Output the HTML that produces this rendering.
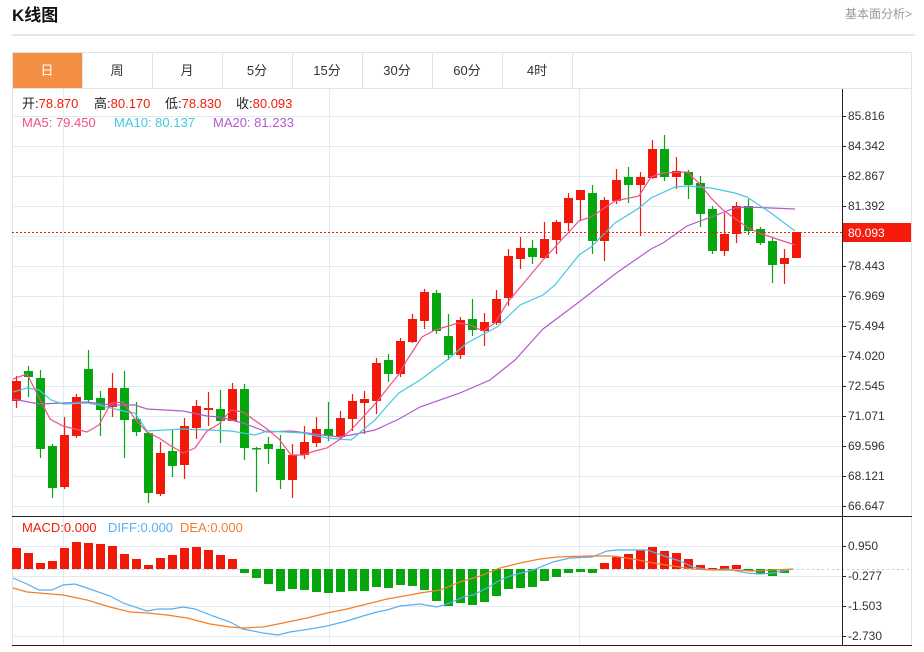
<!DOCTYPE html>
<html><head><meta charset="utf-8"><style>
body{margin:0;background:#fff;width:924px;height:652px;overflow:hidden;font-family:"Liberation Sans","Noto Sans CJK SC",sans-serif;}
svg{position:absolute;left:0;top:0}
</style></head><body>
<svg width="924" height="652" xmlns="http://www.w3.org/2000/svg" font-family="Liberation Sans, Noto Sans CJK SC, sans-serif">
<text x="12" y="21" font-size="17" font-weight="bold" fill="#111">K线图</text>
<text x="845" y="18" font-size="12" fill="#999">基本面分析&gt;</text>
<line x1="12" y1="35" x2="915" y2="35" stroke="#ccc"/>
<rect x="12.5" y="52.5" width="899" height="593" fill="none" stroke="#e2e2e2"/>
<line x1="12" y1="88.5" x2="912" y2="88.5" stroke="#e2e2e2"/>
<rect x="13" y="53" width="69" height="35" fill="#f48e42"/>
<g stroke="#e2e2e2"><line x1="82.5" y1="53" x2="82.5" y2="88"/><line x1="152.5" y1="53" x2="152.5" y2="88"/><line x1="222.5" y1="53" x2="222.5" y2="88"/><line x1="292.5" y1="53" x2="292.5" y2="88"/><line x1="362.5" y1="53" x2="362.5" y2="88"/><line x1="432.5" y1="53" x2="432.5" y2="88"/><line x1="502.5" y1="53" x2="502.5" y2="88"/><line x1="572.5" y1="53" x2="572.5" y2="88"/></g>
<g font-size="13" text-anchor="middle" fill="#333"><text x="47" y="75" fill="#fff">日</text><text x="117" y="75">周</text><text x="187" y="75">月</text><text x="257" y="75">5分</text><text x="327" y="75">15分</text><text x="397" y="75">30分</text><text x="467" y="75">60分</text><text x="537" y="75">4时</text></g>
<g stroke="#e3ebf2"><line x1="63.5" y1="89" x2="63.5" y2="645"/><line x1="329.5" y1="89" x2="329.5" y2="645"/><line x1="579.5" y1="89" x2="579.5" y2="645"/></g>
<g id="hg" stroke="#e3ebf2"></g>
<g id="cd"></g>
<polyline fill="none" stroke="#b05cc8" stroke-width="1.2" points="13,399 39,404 63,403 87,402 111,405 135,405 147,409 183,411 207,416 219,417 243,423 267,432 291,431 315,434 339,437 351,435 375,430 399,419 420,407 460,393 490,380 515,360 543,329 579,302 615,274 651,249 663,243 687,226 711,217 735,208 747,207 795,209"/>
<polyline fill="none" stroke="#45c8e0" stroke-width="1.2" points="13,392 27,388 39,390 51,400 63,404 87,403 99,405 123,411 135,413 147,431 183,429 231,431 255,435 267,431 303,433 327,438 351,440 375,420 387,406 399,393 420,380 447,360 467,343 497,327 520,305 543,295 555,285 579,255 591,247 615,223 639,208 651,198 675,187 687,186 711,188 735,193 747,197 771,213 795,231"/>
<polyline fill="none" stroke="#f0508a" stroke-width="1.2" points="13,379 27,374 50,419 63,426 87,432 99,425 111,403 123,402 135,419 147,432 159,438 171,446 183,453 195,448 207,431 219,424 231,410 243,412 267,429 279,439 291,455 303,455 315,451 327,448 339,440 351,430 363,417 375,404 387,389 399,374 407,360 422,337 435,330 458,323 470,325 483,331 495,323 507,303 543,260 579,221 591,217 615,201 639,196 651,177 663,173 687,172 699,183 711,198 723,210 747,227 759,233 795,245"/>
<line x1="12" y1="232.5" x2="842" y2="232.5" stroke="#f21b0a" stroke-dasharray="2,2"/>
<line x1="12" y1="569.5" x2="912" y2="569.5" stroke="#a9d2ec" stroke-dasharray="2,3"/>
<g id="mb"></g>
<polyline fill="none" stroke="#5aaff0" stroke-width="1.2" points="13,578 27,584 39,590 52,590 63,585 75,584 87,588 110,596 123,603 147,611 158,609 172,609 183,607 195,609 213,616 230,622 243,629 263,633 278,635 290,632 310,629 327,626 347,621 363,616 377,612 387,610 400,606 410,605 420,604 437,607 450,603 463,597 473,595 487,588 500,580 510,576 533,570 553,562 570,558 592,557 607,551 617,550 647,550 667,557 680,561 693,567 710,570 727,569 747,573 760,574 773,573 793,569"/>
<polyline fill="none" stroke="#f37e2a" stroke-width="1.2" points="13,588 27,592 39,593 63,595 87,600 110,607 130,612 147,613 167,615 187,618 210,624 230,627 243,628 263,627 283,623 307,618 327,613 347,609 367,604 387,599 410,595 420,593 440,590 460,582 480,576 500,568 520,563 540,559 557,557 587,556 613,556 633,559 653,563 673,566 693,569 713,570 733,570 753,571 793,569"/>
<line x1="842.5" y1="89" x2="842.5" y2="646" stroke="#222"/>
<line x1="12" y1="516.5" x2="912" y2="516.5" stroke="#222"/>
<line x1="12" y1="645.5" x2="912" y2="645.5" stroke="#222"/>
<g id="tk" stroke="#222"></g>
<g font-size="12" fill="#333">
<text x="848" y="120">85.816</text><text x="848" y="150">84.342</text><text x="848" y="180">82.867</text><text x="848" y="210">81.392</text><text x="848" y="270">78.443</text><text x="848" y="300">76.969</text><text x="848" y="330">75.494</text><text x="848" y="360">74.020</text><text x="848" y="390">72.545</text><text x="848" y="420">71.071</text><text x="848" y="450">69.596</text><text x="848" y="480">68.121</text><text x="848" y="510">66.647</text>
<text x="848" y="550">0.950</text><text x="848" y="580">-0.277</text><text x="848" y="610">-1.503</text><text x="848" y="640">-2.730</text>
</g>
<rect x="843" y="223" width="68" height="19" fill="#f51c0c"/>
<text x="848" y="237" font-size="12" fill="#fff">80.093</text>
<g font-size="13">
<text y="108" fill="#222"><tspan x="22">开:</tspan><tspan fill="#f21b0a">78.870</tspan><tspan x="94">高:</tspan><tspan fill="#f21b0a">80.170</tspan><tspan x="165">低:</tspan><tspan fill="#f21b0a">78.830</tspan><tspan x="236">收:</tspan><tspan fill="#f21b0a">80.093</tspan></text>
<text y="127"><tspan x="22" fill="#f0508a">MA5: 79.450</tspan><tspan x="114" fill="#45c8e0">MA10: 80.137</tspan><tspan x="213" fill="#b05cc8">MA20: 81.233</tspan></text>
<text y="532"><tspan x="22" fill="#f21b0a">MACD:0.000</tspan><tspan x="108" fill="#5aaff0">DIFF:0.000</tspan><tspan x="180" fill="#f37e2a">DEA:0.000</tspan></text>
</g>
</svg>
<script>
var NS="http://www.w3.org/2000/svg";
function el(p,t,a){var e=document.createElementNS(NS,t);for(var k in a)e.setAttribute(k,a[k]);p.appendChild(e);return e;}
var hg=document.getElementById('hg'),tk=document.getElementById('tk');
[116,146,176,206,236,266,296,326,356,386,416,446,476,506,546,576,606,636].forEach(function(y){el(hg,'line',{x1:12,y1:y+.5,x2:842,y2:y+.5});el(tk,'line',{x1:842,y1:y+.5,x2:846,y2:y+.5});});
var C=[[381,401,376,408,1],[371,377,366,397,0],[378,449,370,458,0],[446,488,444,498,0],[435,487,417,489,1],[397,436,394,438,1],[369,400,350,403,0],[398,410,391,436,0],[388,407,373,417,1],[388,420,371,458,0],[419,432,402,436,0],[433,493,432,503,0],[453,494,442,496,1],[451,466,429,477,0],[426,465,418,479,1],[406,428,400,439,1],[408,410,392,426,1],[409,421,390,443,0],[389,421,383,421,1],[389,448,384,460,0],[448,449,447,492,0],[444,449,437,464,0],[449,480,435,489,0],[455,480,444,498,1],[442,455,426,459,1],[429,443,417,447,1],[429,436,402,441,0],[418,437,411,440,1],[401,419,394,431,1],[399,403,391,434,1],[363,401,358,414,1],[360,374,354,382,0],[341,374,338,377,1],[319,342,314,343,1],[292,321,289,329,1],[293,331,290,334,0],[336,355,314,360,0],[320,355,317,359,1],[319,330,299,336,0],[322,331,313,346,1],[299,323,290,325,1],[256,298,249,306,1],[248,259,237,269,1],[248,257,240,264,0],[239,258,222,259,1],[222,240,220,254,1],[198,223,193,231,1],[190,200,190,221,1],[193,241,185,254,0],[200,241,197,261,1],[180,201,169,204,1],[177,185,167,203,0],[177,185,172,236,1],[149,178,140,179,1],[149,177,135,181,0],[171,177,157,189,1],[172,185,170,199,0],[183,214,176,227,0],[209,251,206,254,0],[234,251,213,256,1],[206,234,202,243,1],[206,231,199,235,0],[229,243,227,245,0],[241,265,237,283,0],[258,264,249,284,1],[232,258,232,258,1]];
var cd=document.getElementById('cd');
C.forEach(function(c,i){var x=16+12*i,col=c[4]?'#f31908':'#05a60e';
el(cd,'line',{x1:x+.5,y1:c[2],x2:x+.5,y2:c[3],stroke:col,'stroke-width':1.2});
el(cd,'rect',{x:x-4,y:c[0],width:9,height:Math.max(1.5,c[1]-c[0]),fill:col});});
var M=[548,553,563,561,548,542,543,544,546,554,559,565,558,555,548,547,550,555,559,573,578,584,591,589,590,592,593,592,591,591,587,588,585,586,590,601,606,603,605,602,596,589,588,587,581,577,573,572,573,563,557,554,550,547,551,553,559,565,568,566,565,571,574,576,573];
var mb=document.getElementById('mb');
M.forEach(function(v,i){var x=16+12*i,red=v<569;
el(mb,'rect',{x:x-4,y:red?v:569,width:9,height:Math.max(1,Math.abs(v-569)),fill:red?'#f31908':'#05a60e'});});
</script>
</body></html>
